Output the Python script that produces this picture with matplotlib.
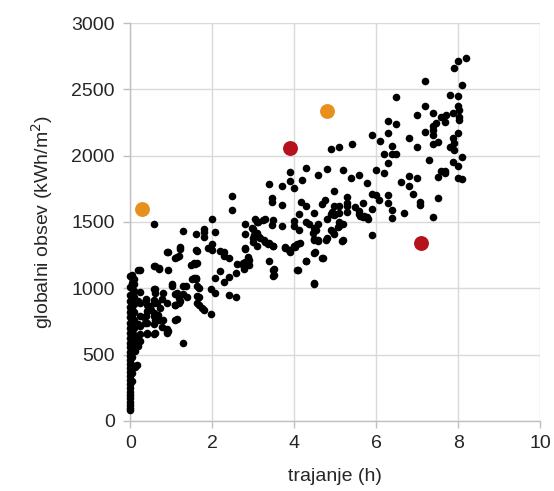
import matplotlib
matplotlib.use("Agg")
import matplotlib.pyplot as plt

plt.rcParams['font.family'] = ['Liberation Sans', 'DejaVu Sans']

# daily sunshine duration (h) vs global irradiation (kWh/m2)
# days with ~zero sunshine
x_zero = [0.0] * 30 + [0.05] * 20 + [0.1] * 14
y_zero = [80, 100, 120, 145, 170, 195, 220, 250, 280, 310, 340, 370, 400, 430, 460,
          490, 520, 555, 590, 625, 660, 700, 740, 780, 820, 860, 900, 950, 1010, 1090,
          300, 360, 420, 480, 540, 600, 650, 700, 750, 800, 840, 880, 920, 960, 1000,
          1040, 1080, 1100, 560, 680,
          540, 600, 650, 700, 760, 820, 880, 930, 980, 1030, 1070, 620, 720, 900]

x_main = [
    8.19, 7.99, 7.89, 7.19, 8.09, 7.80, 8.00, 6.49, 7.19, 8.00, 8.02, 7.38, 7.88, 7.00,
    7.71, 7.58, 8.02, 6.28, 6.49, 7.47, 7.38, 7.69, 8.02, 7.38, 7.19, 6.29, 7.99, 5.89,
    6.79, 7.38, 7.88, 6.09, 7.50, 7.38, 7.91, 6.39, 7.00, 7.80, 5.09, 4.90, 7.90, 6.18,
    6.39, 6.49, 8.09, 7.29, 7.88, 6.29, 7.99, 4.29, 4.79, 5.99, 5.18, 7.57, 7.69, 7.67,
    3.91, 6.18, 4.58, 5.59, 6.79, 5.38, 7.00, 7.50, 8.00, 8.09, 4.19, 3.91, 6.60, 5.78,
    3.39, 3.70, 6.79, 3.99, 4.98, 6.89, 5.89, 5.99, 6.29, 2.48, 5.30, 6.07, 7.50, 4.76,
    3.47, 7.08, 3.47, 4.17, 6.29, 4.69, 5.69, 7.08, 3.70, 5.10, 4.29, 4.97, 5.30, 5.49,
    6.39, 2.48, 5.89, 4.48, 5.30, 6.68, 4.11, 5.59, 4.97, 4.90, 5.69, 6.39, 7.38, 5.80,
    4.79, 2.00, 3.28, 3.49, 3.99, 4.29, 5.09, 0.59, 3.09, 2.81, 4.36, 4.58, 5.19, 3.99,
    3.70, 4.48, 5.09, 2.99, 4.11, 1.79, 4.90, 1.28, 2.08, 1.79, 2.81, 1.60, 3.09, 4.97,
    1.79, 2.99, 4.79, 4.48, 3.16, 5.89, 4.58, 5.19, 3.00, 3.28, 3.37, 4.08, 3.09, 2.00,
    3.49, 3.99, 3.78, 1.89, 2.00, 1.22, 1.60, 2.19, 3.87, 0.90, 2.29, 2.80, 3.91, 4.48,
    1.18, 2.29, 2.40, 1.09, 4.69, 2.90, 3.39, 4.29, 2.76, 2.60, 2.90, 1.58, 1.49, 0.57,
    0.71, 2.78, 4.08, 0.19, 0.92, 3.49, 2.19, 2.59, 3.49, 2.40, 2.08, 1.50, 1.60, 2.29,
    4.48, 1.01, 1.28, 1.68, 0.59, 1.98, 2.08, 1.09, 1.28, 1.39, 2.40, 2.59, 1.68, 0.38,
    0.78, 0.59, 0.90, 1.18, 1.09, 0.19, 0.49, 1.68, 1.79, 0.59, 0.71, 1.09, 0.40, 0.59,
    0.78, 0.89, 0.90, 0.40, 0.59, 1.98, 1.28, 0.24, 0.24, 0.19, 0.33, 0.42, 0.12, 0.12,
    5.40, 4.93, 5.00, 5.09, 5.29, 5.58, 5.70, 5.61, 5.77, 4.54, 4.46, 4.49, 4.59, 4.78,
    4.95, 5.07, 5.17, 3.45, 3.04, 3.25, 3.11, 2.98, 3.03, 3.14, 3.26, 3.39, 3.48, 2.80,
    3.78, 3.90, 4.02, 4.13, 4.50, 4.70, 4.28, 3.50, 3.50, 4.10, 4.49, 2.87, 2.79, 2.74,
    0.23, 0.93, 1.22, 1.64, 1.15, 0.60, 0.71, 1.56, 1.62, 1.55, 1.61, 1.02, 0.60, 0.60,
    0.24, 0.81, 1.14, 1.35, 1.22, 1.18, 1.10, 1.63, 1.63, 1.63, 1.76, 0.39, 0.41, 0.57,
    0.65, 0.73, 0.50, 0.57, 0.69, 0.61, 0.81, 0.89, 0.93, 0.39, 0.37, 0.41, 0.60, 1.15,
    0.24, 0.24, 0.24, 0.20, 0.18, 0.16,
]
y_main = [
    2735, 2715, 2664, 2561, 2533, 2460, 2449, 2442, 2376, 2376, 2346, 2321, 2321, 2303,
    2303, 2295, 2295, 2263, 2240, 2245, 2220, 2255, 2270, 2194, 2177, 2174, 2174, 2157,
    2134, 2157, 2131, 2109, 2106, 2088, 2093, 2076, 2063, 2068, 2063, 2050, 2043, 2013,
    2013, 2013, 1987, 1967, 1955, 1947, 1924, 1907, 1896, 1891, 1891, 1886, 1886, 1866,
    1874, 1866, 1854, 1854, 1848, 1831, 1831, 1836, 1831, 1821, 1816, 1806, 1803, 1796,
    1788, 1770, 1768, 1755, 1732, 1707, 1707, 1705, 1702, 1694, 1689, 1669, 1679, 1669,
    1679, 1654, 1651, 1649, 1644, 1639, 1644, 1629, 1629, 1619, 1619, 1619, 1619, 1614,
    1593, 1593, 1601, 1571, 1573, 1568, 1563, 1558, 1553, 1561, 1538, 1533, 1535, 1525,
    1525, 1523, 1525, 1513, 1505, 1500, 1503, 1485, 1500, 1482, 1482, 1487, 1482, 1467,
    1472, 1452, 1467, 1447, 1442, 1449, 1442, 1434, 1422, 1422, 1412, 1407, 1417, 1412,
    1386, 1381, 1381, 1371, 1381, 1399, 1361, 1361, 1348, 1348, 1331, 1331, 1316, 1331,
    1316, 1316, 1306, 1306, 1290, 1298, 1285, 1280, 1285, 1275, 1270, 1298, 1270, 1265,
    1245, 1240, 1230, 1230, 1225, 1215, 1205, 1205, 1187, 1179, 1174, 1179, 1174, 1167,
    1144, 1144, 1134, 1134, 1134, 1134, 1129, 1114, 1093, 1088, 1078, 1073, 1073, 1048,
    1033, 1018, 1013, 1003, 992, 992, 967, 957, 957, 937, 947, 937, 937, 922,
    922, 886, 886, 886, 871, 907, 866, 876, 836, 790, 760, 760, 740, 730,
    707, 679, 659, 654, 654, 806, 586, 604, 654, 730, 780, 830, 528, 402,
    2090, 1575, 1560, 1565, 1640, 1585, 1545, 1545, 1540, 1440, 1415, 1363, 1355, 1366,
    1425, 1463, 1355, 1475, 1523, 1513, 1498, 1453, 1403, 1390, 1365, 1340, 1320, 1305,
    1313, 1288, 1313, 1343, 1275, 1225, 1208, 1143, 1100, 1140, 1040, 1235, 1197, 1178,
    1138, 1275, 1308, 1283, 1238, 1170, 1150, 1188, 1188, 1075, 1075, 1030, 993, 963,
    975, 963, 963, 1013, 900, 925, 875, 1013, 938, 888, 850, 913, 875, 913,
    888, 850, 838, 813, 800, 763, 763, 693, 675, 788, 738, 663, 663, 770,
    888, 788, 713, 613, 563, 418,
]

# highlighted days
x_orange = [0.3, 4.8]
y_orange = [1600, 2340]
x_red = [3.9, 7.1]
y_red = [2060, 1340]

fig = plt.figure(figsize=(5.54, 4.91), dpi=100)
ax = fig.add_axes([0.235, 0.143, 0.740, 0.810])

ax.scatter(x_zero + x_main, y_zero + y_main, s=30, color='black', linewidths=0,
           zorder=3, clip_on=False)
ax.scatter(x_orange, y_orange, s=115, color='#E8901F', linewidths=0, zorder=4)
ax.scatter(x_red, y_red, s=115, color='#B5121B', linewidths=0, zorder=4)

ax.set_xlim(0, 10)
ax.set_ylim(0, 3000)
ax.set_xticks(range(0, 11, 2))
ax.set_yticks(range(0, 3001, 500))
ax.grid(True, color='#d9d9d9', linewidth=1.0, zorder=0)
ax.set_axisbelow(True)

for side in ['top', 'right']:
    ax.spines[side].set_visible(False)
for side in ['left', 'bottom']:
    ax.spines[side].set_color('#bfbfbf')
    ax.spines[side].set_linewidth(1.0)

ax.tick_params(axis='both', colors='#bfbfbf', length=5, width=1.0,
               labelcolor='#262626', labelsize=14)
ax.tick_params(axis='y', pad=6)
ax.tick_params(axis='x', pad=5)

ax.set_xlabel('trajanje (h)', fontsize=14, color='#262626', labelpad=12)
ax.set_ylabel('globalni obsev (kWh/m$^2$)', fontsize=14, color='#262626', labelpad=12)

fig.savefig('out.png', dpi=100)
